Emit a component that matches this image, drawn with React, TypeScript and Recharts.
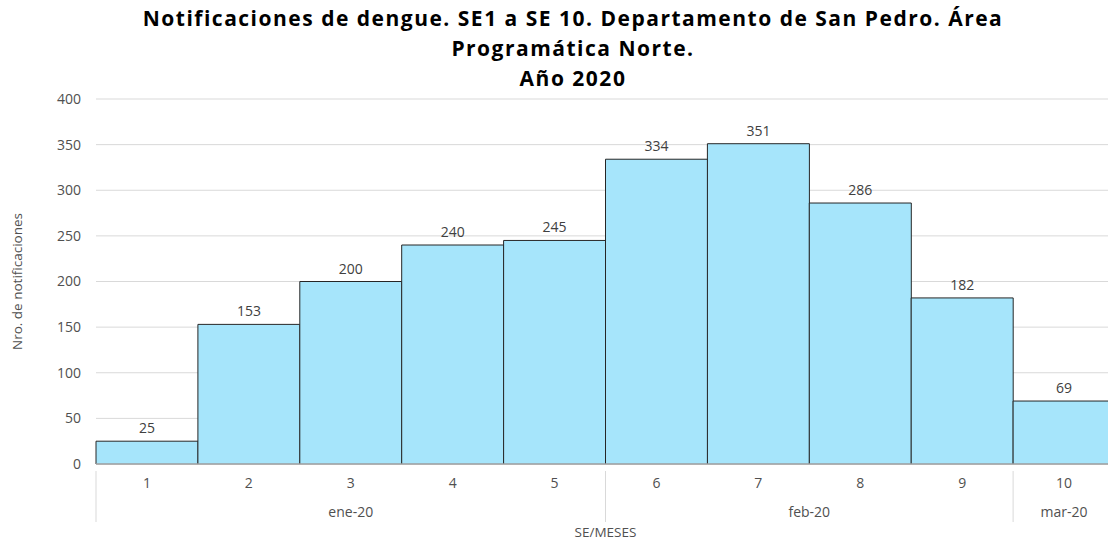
import { BarChart, Bar, XAxis, YAxis, CartesianGrid, LabelList } from "recharts"

const semanas = ["1", "2", "3", "4", "5", "6", "7", "8", "9", "10"]
const notificaciones = [25, 153, 200, 240, 245, 334, 351, 286, 182, 69]
const meses = ["ene-20", "ene-20", "ene-20", "ene-20", "ene-20", "feb-20", "feb-20", "feb-20", "feb-20", "mar-20"]
const yTicks = [0, 50, 100, 150, 200, 250, 300, 350, 400]
const titulo = [
    "Notificaciones de dengue. SE1 a SE 10. Departamento de San Pedro. Área",
    "Programática Norte.",
    "Año 2020",
]

const data = semanas.map((se, i) => ({ se, valor: notificaciones[i], mes: meses[i] }))

const FONT = "'Open Sans', 'Noto Sans', sans-serif"
const SEP_COLOR = "#d9d9d9"
const titleTops = [8, 38, 68]

const MonthTick = (props: any) => {
    const { x, y, payload } = props
    const i = payload.index
    const half = payload.offset || 51
    const left = x - half
    if (i > 0 && meses[i - 1] === meses[i]) return null
    let size = 0
    while (i + size < meses.length && meses[i + size] === meses[i]) size++
    const cx = left + size * half
    return (
        <g>
            <line x1={left} x2={left} y1={y - 29} y2={y + 22} stroke={SEP_COLOR} />
            <text x={cx} y={y + 17} textAnchor="middle" fontSize={14} fill="#505050" fontFamily={FONT}>
                {meses[i]}
            </text>
        </g>
    )
}

const App = () => {
    return (
        <div style={{ position: "absolute", left: 0, top: 0, width: 1108, height: 542, overflow: "hidden", background: "#fff" }}>
            {titulo.map((t, i) => (
                <div key={i} style={{ position: "absolute", left: 0, top: titleTops[i], width: 1146, textAlign: "center", fontFamily: FONT, fontWeight: 700, fontSize: 21, lineHeight: "21px", letterSpacing: 1.5, color: "#000", whiteSpace: "nowrap" }}>
                    {t}
                </div>
            ))}
            <BarChart
                width={1115}
                height={542}
                data={data}
                margin={{ top: 99, right: 0, bottom: 14, left: 0 }}
                barCategoryGap={0}
                style={{ fontFamily: FONT }}
            >
                <CartesianGrid vertical={false} stroke={SEP_COLOR} />
                <XAxis
                    dataKey="se"
                    height={28}
                    tickLine={false}
                    axisLine={{ stroke: SEP_COLOR }}
                    tick={{ fontSize: 14, fill: "#505050" }}
                    tickMargin={8}
                />
                <XAxis
                    xAxisId="mes"
                    dataKey="se"
                    height={36}
                    tickLine={false}
                    axisLine={false}
                    tick={<MonthTick />}
                    interval={0}
                    label={{ value: "SE/MESES", position: "insideBottom", offset: -9, fontSize: 13.5, fill: "#505050" }}
                />
                <YAxis
                    width={96}
                    domain={[0, 400]}
                    ticks={yTicks}
                    tickLine={false}
                    axisLine={false}
                    tickSize={0}
                    tickMargin={15}
                    tick={{ fontSize: 14, fill: "#505050" }}
                    label={{ value: "Nro. de notificaciones", angle: -90, position: "insideLeft", offset: 17, fontSize: 13.5, fill: "#505050", style: { textAnchor: "middle" } }}
                />
                <Bar dataKey="valor" fill="#a6e5fb" stroke="#262626" strokeWidth={1} isAnimationActive={false}>
                    <LabelList dataKey="valor" position="top" offset={8} fontSize={14} fill="#404040" />
                </Bar>
            </BarChart>
        </div>
    )
}

export default App
